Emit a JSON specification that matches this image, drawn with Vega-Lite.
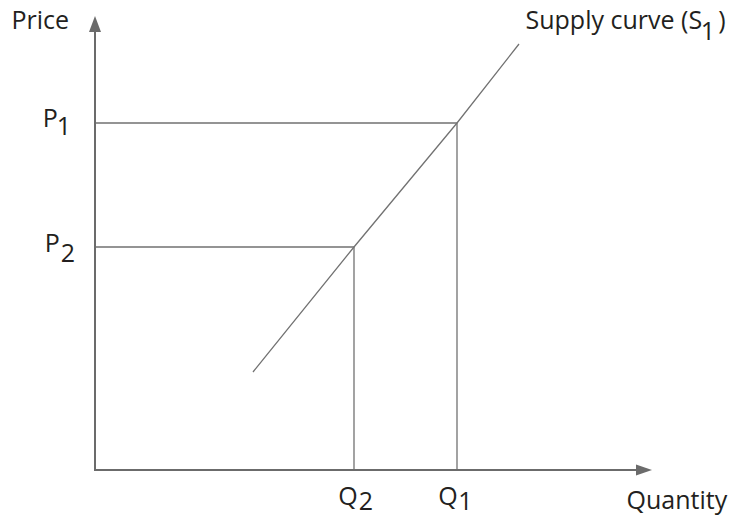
{
  "$schema": "https://vega.github.io/schema/vega-lite/v6.json",
  "width": 637,
  "height": 470,
  "autosize": {"type": "none"},
  "padding": {"left": 95, "top": 0, "right": 0, "bottom": 47},
  "background": "white",
  "config": {"view": {"stroke": null}, "font": "Open Sans"},
  "datasets": {
    "axes": [
      {"seg": "y", "i": 0, "x": 0, "y": 0},
      {"seg": "y", "i": 1, "x": 0, "y": 4.46},
      {"seg": "x", "i": 0, "x": 0, "y": 0},
      {"seg": "x", "i": 1, "x": 5.49, "y": 0}
    ],
    "guides": [
      {"seg": "P1", "i": 0, "x": 0, "y": 3.47},
      {"seg": "P1", "i": 1, "x": 3.62, "y": 3.47},
      {"seg": "P1", "i": 2, "x": 3.62, "y": 0},
      {"seg": "P2", "i": 0, "x": 0, "y": 2.23},
      {"seg": "P2", "i": 1, "x": 2.59, "y": 2.23},
      {"seg": "P2", "i": 2, "x": 2.59, "y": 0}
    ],
    "supply": [
      {"x": 1.58, "y": 0.98},
      {"x": 2.59, "y": 2.23},
      {"x": 3.62, "y": 3.47},
      {"x": 4.24, "y": 4.26}
    ],
    "arrows": [
      {"dir": "up", "x": 0, "y": 4.46},
      {"dir": "right", "x": 5.49, "y": 0}
    ],
    "leftLabels": [
      {"text": "Price", "x": -0.835, "y": 4.41},
      {"text": "P", "x": -0.523, "y": 3.43},
      {"text": "P", "x": -0.503, "y": 2.18},
      {"text": "Quantity", "x": 5.315, "y": -0.39},
      {"text": "Supply curve (S", "x": 4.305, "y": 4.41}
    ],
    "centerLabels": [
      {"text": "1", "x": -0.31, "y": 3.35},
      {"text": "2", "x": -0.27, "y": 2.08},
      {"text": "Q", "x": 2.53, "y": -0.35},
      {"text": "2", "x": 2.71, "y": -0.40},
      {"text": "Q", "x": 3.53, "y": -0.35},
      {"text": "1", "x": 3.705, "y": -0.40},
      {"text": "1", "x": 6.13, "y": 4.30},
      {"text": ")", "x": 6.27, "y": 4.41}
    ]
  },
  "layer": [
    {
      "data": {"name": "guides"},
      "mark": {"type": "line", "color": "#727272", "strokeWidth": 1.3},
      "encoding": {
        "x": {"field": "x", "type": "quantitative", "axis": null, "scale": {"domain": [0, 6.37], "nice": false, "zero": false}},
        "y": {"field": "y", "type": "quantitative", "axis": null, "scale": {"domain": [0, 4.7], "nice": false, "zero": false}},
        "detail": {"field": "seg"},
        "order": {"field": "i"}
      }
    },
    {
      "data": {"name": "supply"},
      "mark": {"type": "line", "color": "#727272", "strokeWidth": 1.3},
      "encoding": {
        "x": {"field": "x", "type": "quantitative", "axis": null, "scale": {"domain": [0, 6.37], "nice": false, "zero": false}},
        "y": {"field": "y", "type": "quantitative", "axis": null, "scale": {"domain": [0, 4.7], "nice": false, "zero": false}}
      }
    },
    {
      "data": {"name": "axes"},
      "mark": {"type": "line", "color": "#6b6b6b", "strokeWidth": 2, "strokeCap": "square"},
      "encoding": {
        "x": {"field": "x", "type": "quantitative", "axis": null, "scale": {"domain": [0, 6.37], "nice": false, "zero": false}},
        "y": {"field": "y", "type": "quantitative", "axis": null, "scale": {"domain": [0, 4.7], "nice": false, "zero": false}},
        "detail": {"field": "seg"},
        "order": {"field": "i"}
      }
    },
    {
      "data": {"name": "arrows"},
      "mark": {"type": "point", "filled": true, "opacity": 1, "color": "#6b6b6b", "size": 256},
      "encoding": {
        "x": {"field": "x", "type": "quantitative", "axis": null, "scale": {"domain": [0, 6.37], "nice": false, "zero": false}},
        "y": {"field": "y", "type": "quantitative", "axis": null, "scale": {"domain": [0, 4.7], "nice": false, "zero": false}},
        "shape": {"field": "dir", "type": "nominal", "legend": null, "scale": {"domain": ["up", "right"], "range": ["M0,-1L0.75,1L-0.75,1Z", "M1,0L-1,0.7L-1,-0.7Z"]}}
      }
    },
    {
      "data": {"name": "leftLabels"},
      "mark": {"type": "text", "align": "left", "baseline": "alphabetic", "fontSize": 25, "color": "#231f20", "font": "Open Sans"},
      "encoding": {
        "x": {"field": "x", "type": "quantitative", "axis": null, "scale": {"domain": [0, 6.37], "nice": false, "zero": false}},
        "y": {"field": "y", "type": "quantitative", "axis": null, "scale": {"domain": [0, 4.7], "nice": false, "zero": false}},
        "text": {"field": "text"}
      }
    },
    {
      "data": {"name": "centerLabels"},
      "mark": {"type": "text", "align": "center", "baseline": "alphabetic", "fontSize": 25, "color": "#231f20", "font": "Open Sans"},
      "encoding": {
        "x": {"field": "x", "type": "quantitative", "axis": null, "scale": {"domain": [0, 6.37], "nice": false, "zero": false}},
        "y": {"field": "y", "type": "quantitative", "axis": null, "scale": {"domain": [0, 4.7], "nice": false, "zero": false}},
        "text": {"field": "text"}
      }
    }
  ]
}
